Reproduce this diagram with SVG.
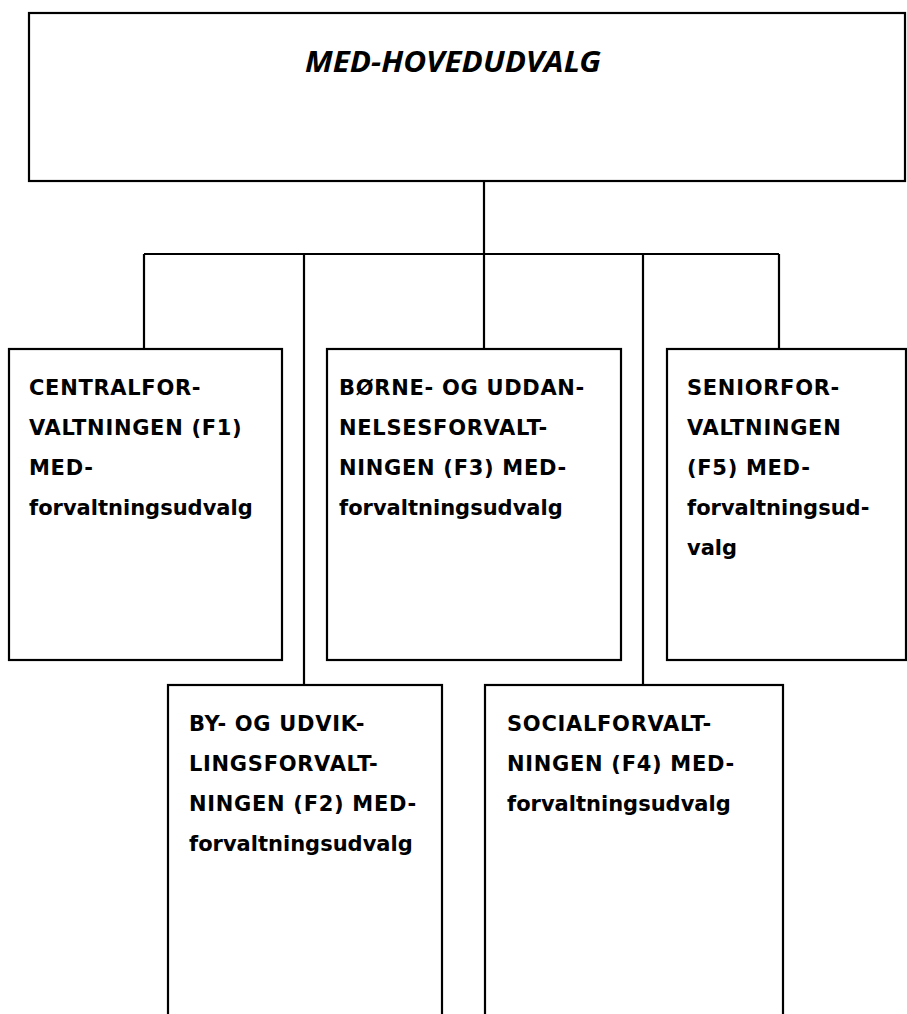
<svg xmlns="http://www.w3.org/2000/svg" width="907" height="1014" viewBox="0 0 907 1014">
<style>
.box{fill:#fff;stroke:#000;stroke-width:2.2}
.ln{fill:none;stroke:#000;stroke-width:2.2}
.t{font-family:"DejaVu Sans",Verdana,sans-serif;font-weight:bold;font-size:21px;fill:#000}
.c{letter-spacing:0.7px}
.title{font-family:"Noto Sans","Open Sans",sans-serif;font-weight:bold;font-style:italic;font-size:28px;fill:#000}
</style>
<rect width="907" height="1014" fill="#fff"/>
<g id="connectors">
<path class="ln" d="M484,181 V254 M144,254 H779 M144,254 V349 M304,254 V685 M484,254 V349 M643,254 V685 M779,254 V349"/>
</g>
<g id="hovedudvalg">
<rect class="box" x="29" y="13" width="876" height="168"/>
<text class="title" x="453" y="72" text-anchor="middle" textLength="296" lengthAdjust="spacingAndGlyphs">MED-HOVEDUDVALG</text>
</g>
<g id="f1">
<rect class="box" x="9" y="349" width="273" height="311"/>
<text class="t"><tspan class="c" x="29" y="395">CENTRALFOR-</tspan><tspan class="c" x="29" y="435">VALTNINGEN (F1)</tspan><tspan class="c" x="29" y="475">MED-</tspan><tspan x="29" y="515">forvaltningsudvalg</tspan></text>
</g>
<g id="f3">
<rect class="box" x="327" y="349" width="294" height="311"/>
<text class="t"><tspan class="c" x="339" y="395">BØRNE- OG UDDAN-</tspan><tspan class="c" x="339" y="435">NELSESFORVALT-</tspan><tspan class="c" x="339" y="475">NINGEN (F3) MED-</tspan><tspan x="339" y="515">forvaltningsudvalg</tspan></text>
</g>
<g id="f5">
<rect class="box" x="667" y="349" width="239" height="311"/>
<text class="t"><tspan class="c" x="687" y="395">SENIORFOR-</tspan><tspan class="c" x="687" y="435">VALTNINGEN</tspan><tspan class="c" x="687" y="475">(F5) MED-</tspan><tspan x="687" y="515">forvaltningsud-</tspan><tspan x="687" y="555">valg</tspan></text>
</g>
<g id="f2">
<rect class="box" x="168" y="685" width="274" height="340"/>
<text class="t"><tspan class="c" x="189" y="731">BY- OG UDVIK-</tspan><tspan class="c" x="189" y="771">LINGSFORVALT-</tspan><tspan class="c" x="189" y="811">NINGEN (F2) MED-</tspan><tspan x="189" y="851">forvaltningsudvalg</tspan></text>
</g>
<g id="f4">
<rect class="box" x="485" y="685" width="298" height="340"/>
<text class="t"><tspan class="c" x="507" y="731">SOCIALFORVALT-</tspan><tspan class="c" x="507" y="771">NINGEN (F4) MED-</tspan><tspan x="507" y="811">forvaltningsudvalg</tspan></text>
</g>
</svg>
